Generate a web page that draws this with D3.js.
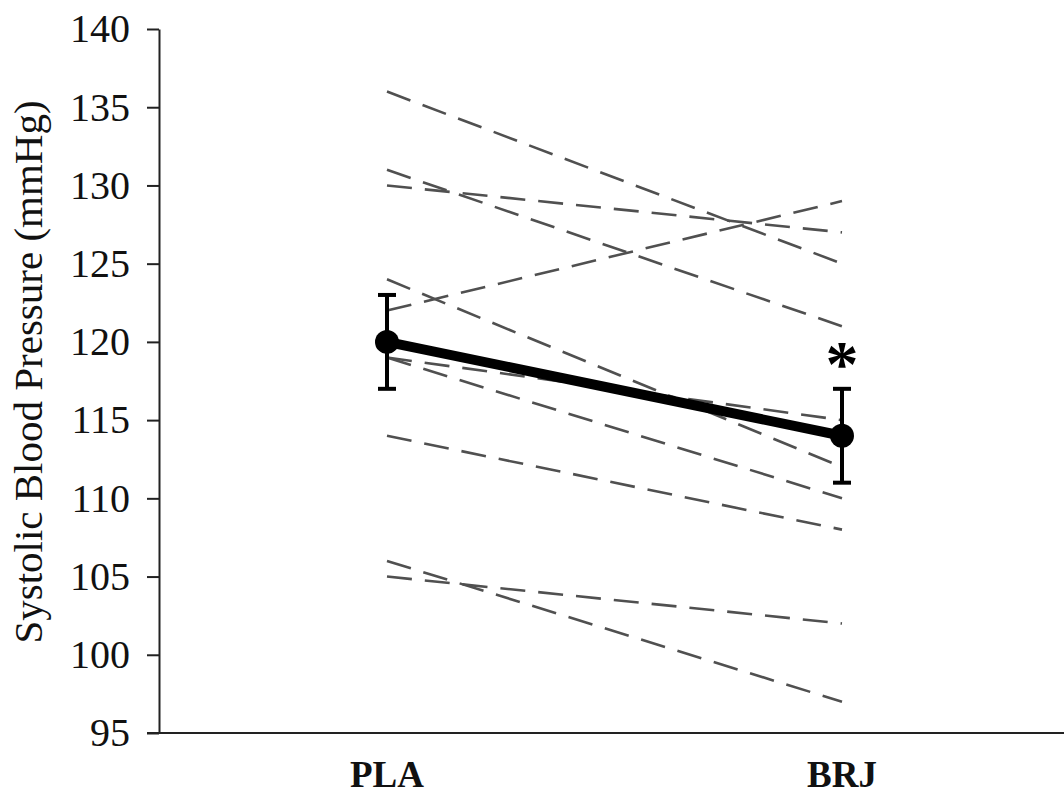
<!DOCTYPE html>
<html>
<head>
<meta charset="utf-8">
<script src="https://cdn.jsdelivr.net/npm/d3@7"></script>
<style>
  body { margin: 0; background: #fff; }
  svg { display: block; }
</style>
</head>
<body>
<div id="chart"></div>
<script>
const conditions = ["PLA", "BRJ"];
// individual participants, PLA -> BRJ
const subjectPLA = [136, 131, 130, 122, 124, 119, 119, 114, 106, 105];
const subjectBRJ = [125, 121, 127, 129, 112, 115, 110, 108, 97, 102];
const meanValues = [120, 114];
const errValues = [3, 3];
const yTicks = [95, 100, 105, 110, 115, 120, 125, 130, 135, 140];

const width = 1064, height = 799;

const svg = d3.select("#chart")
    .append("svg")
    .attr("width", width)
    .attr("height", height)
    .style("background", "#ffffff");

const x = d3.scalePoint().domain(conditions).range([387, 842]);
const y = d3.scaleLinear().domain([95, 140]).range([733, 29]);

const serif = "'Liberation Serif', 'Times New Roman', serif";

// y axis
const yAxis = svg.append("g")
    .attr("transform", "translate(159,0)")
    .call(d3.axisLeft(y).tickValues(yTicks).tickSize(12).tickPadding(17).tickSizeOuter(0));
yAxis.select(".domain").attr("stroke", "#222").attr("stroke-width", 2);
yAxis.selectAll(".tick line").attr("stroke", "#222").attr("stroke-width", 2);
yAxis.selectAll(".tick text")
    .attr("font-family", serif)
    .attr("font-size", "40px")
    .attr("fill", "#111");

// x axis baseline
svg.append("line")
    .attr("x1", 147).attr("x2", width)
    .attr("y1", y(95)).attr("y2", y(95))
    .attr("stroke", "#222")
    .attr("stroke-width", 2);

// category labels
svg.selectAll("text.cat")
    .data(conditions)
    .enter()
    .append("text")
    .attr("class", "cat")
    .attr("x", d => x(d))
    .attr("y", 787)
    .attr("text-anchor", "middle")
    .attr("font-family", serif)
    .attr("font-weight", "bold")
    .attr("font-size", "37px")
    .attr("fill", "#111")
    .text(d => d);

// y label
svg.append("text")
    .attr("transform", "translate(42,372) rotate(-90)")
    .attr("text-anchor", "middle")
    .attr("font-family", serif)
    .attr("font-size", "41px")
    .attr("fill", "#111")
    .text("Systolic Blood Pressure (mmHg)");

// individual dashed lines
svg.selectAll("line.subject")
    .data(subjectPLA.map((v, i) => [v, subjectBRJ[i]]))
    .enter()
    .append("line")
    .attr("class", "subject")
    .attr("x1", x("PLA"))
    .attr("y1", d => y(d[0]))
    .attr("x2", x("BRJ"))
    .attr("y2", d => y(d[1]))
    .attr("stroke", "#505050")
    .attr("stroke-width", 2.6)
    .attr("stroke-dasharray", "25,13");

// error bars
const means = conditions.map((c, i) => ({ c, m: meanValues[i], e: errValues[i] }));
const eb = svg.selectAll("g.err")
    .data(means)
    .enter()
    .append("g")
    .attr("class", "err");
eb.append("line")
    .attr("x1", d => x(d.c)).attr("x2", d => x(d.c))
    .attr("y1", d => y(d.m - d.e)).attr("y2", d => y(d.m + d.e))
    .attr("stroke", "#000").attr("stroke-width", 4);
eb.append("line")
    .attr("x1", d => x(d.c) - 9).attr("x2", d => x(d.c) + 9)
    .attr("y1", d => y(d.m + d.e)).attr("y2", d => y(d.m + d.e))
    .attr("stroke", "#000").attr("stroke-width", 4);
eb.append("line")
    .attr("x1", d => x(d.c) - 9).attr("x2", d => x(d.c) + 9)
    .attr("y1", d => y(d.m - d.e)).attr("y2", d => y(d.m - d.e))
    .attr("stroke", "#000").attr("stroke-width", 4);

// mean line
svg.append("path")
    .datum(means)
    .attr("d", d3.line().x(d => x(d.c)).y(d => y(d.m)))
    .attr("fill", "none")
    .attr("stroke", "#000")
    .attr("stroke-width", 10);

svg.selectAll("circle.mean")
    .data(means)
    .enter()
    .append("circle")
    .attr("class", "mean")
    .attr("cx", d => x(d.c))
    .attr("cy", d => y(d.m))
    .attr("r", 12)
    .attr("fill", "#000");

// significance marker
svg.append("text")
    .attr("x", x("BRJ"))
    .attr("y", 386)
    .attr("text-anchor", "middle")
    .attr("font-family", serif)
    .attr("font-weight", "bold")
    .attr("font-size", "66px")
    .attr("fill", "#000")
    .text("*");
</script>
</body>
</html>
